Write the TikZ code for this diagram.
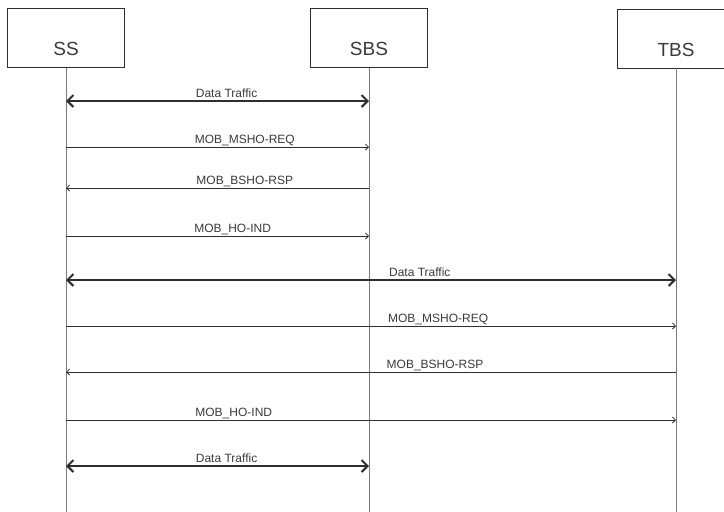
\documentclass[tikz,border=0pt]{standalone}
\usepackage{fontspec}
\setmainfont{Liberation Sans}
\usetikzlibrary{arrows.meta}
\definecolor{cline}{HTML}{2E2E2E}
\definecolor{cgrey}{HTML}{7A7A7A}
\definecolor{ctext}{HTML}{3A3A3A}
\tikzset{
  every picture/.style={line width=0.8pt},
  entity/.style={draw=cline, rectangle, inner sep=0pt, minimum width=117pt, minimum height=59pt,
    text height=35pt, text depth=0pt, text=ctext, font=\fontsize{19}{19}\selectfont},
  life/.style={draw=cgrey, line width=0.9pt},
  msg/.style={-{Straight Barb[length=3pt, width=6pt]}, draw=cline, line width=0.8pt},
  traffic/.style={{Straight Barb[length=6pt, width=12pt]}-{Straight Barb[length=6pt, width=12pt]}, draw=cline, line width=2pt},
  lbl/.style={above, inner sep=3pt, text height=9pt, text depth=0pt, text=ctext, font=\fontsize{12}{12}\selectfont},
}

\begin{document}
\begin{tikzpicture}[x=1pt, y=-1pt]
  \useasboundingbox (0,0) rectangle (724,512);

  % ---- entities
  \node[entity] (ss)  at (66,38)  {SS};
  \node[entity] (sbs) at (369,38) {SBS};
  \node[entity] (tbs) at (676,38.5) {TBS};
  \coordinate (bot) at (0,512);

  % ---- lifelines
  \foreach \e in {ss, sbs, tbs} \draw[life] (\e.south) -- (\e.south |- bot);

  % ---- rows
  \coordinate (r1) at (0,101);
  \coordinate (r2) at (0,147);
  \coordinate (r3) at (0,188);
  \coordinate (r4) at (0,236);
  \coordinate (r5) at (0,280);
  \coordinate (r6) at (0,326);
  \coordinate (r7) at (0,372);
  \coordinate (r8) at (0,420);
  \coordinate (r9) at (0,466);

  % serving base station
  \draw[traffic] (ss |- r1) -- node[lbl, pos=.53] {Data Traffic} (sbs |- r1);
  \draw[msg] (ss |- r2) -- node[lbl, pos=.59] {MOB\_MSHO-REQ} (sbs |- r2);
  \draw[msg] (sbs |- r3) -- node[lbl, pos=.41] {MOB\_BSHO-RSP} (ss |- r3);
  \draw[msg] (ss |- r4) -- node[lbl, pos=.55] {MOB\_HO-IND} (sbs |- r4);

  % target base station
  \draw[traffic] (ss |- r5) -- node[lbl, pos=.58] {Data Traffic} (tbs |- r5);
  \draw[msg] (ss |- r6) -- node[lbl, pos=.61] {MOB\_MSHO-REQ} (tbs |- r6);
  \draw[msg] (tbs |- r7) -- node[lbl, pos=.395] {MOB\_BSHO-RSP} (ss |- r7);
  \draw[msg] (ss |- r8) -- node[lbl, pos=.275] {MOB\_HO-IND} (tbs |- r8);

  % back to serving
  \draw[traffic] (ss |- r9) -- node[lbl, pos=.53] {Data Traffic} (sbs |- r9);
\end{tikzpicture}
\end{document}
